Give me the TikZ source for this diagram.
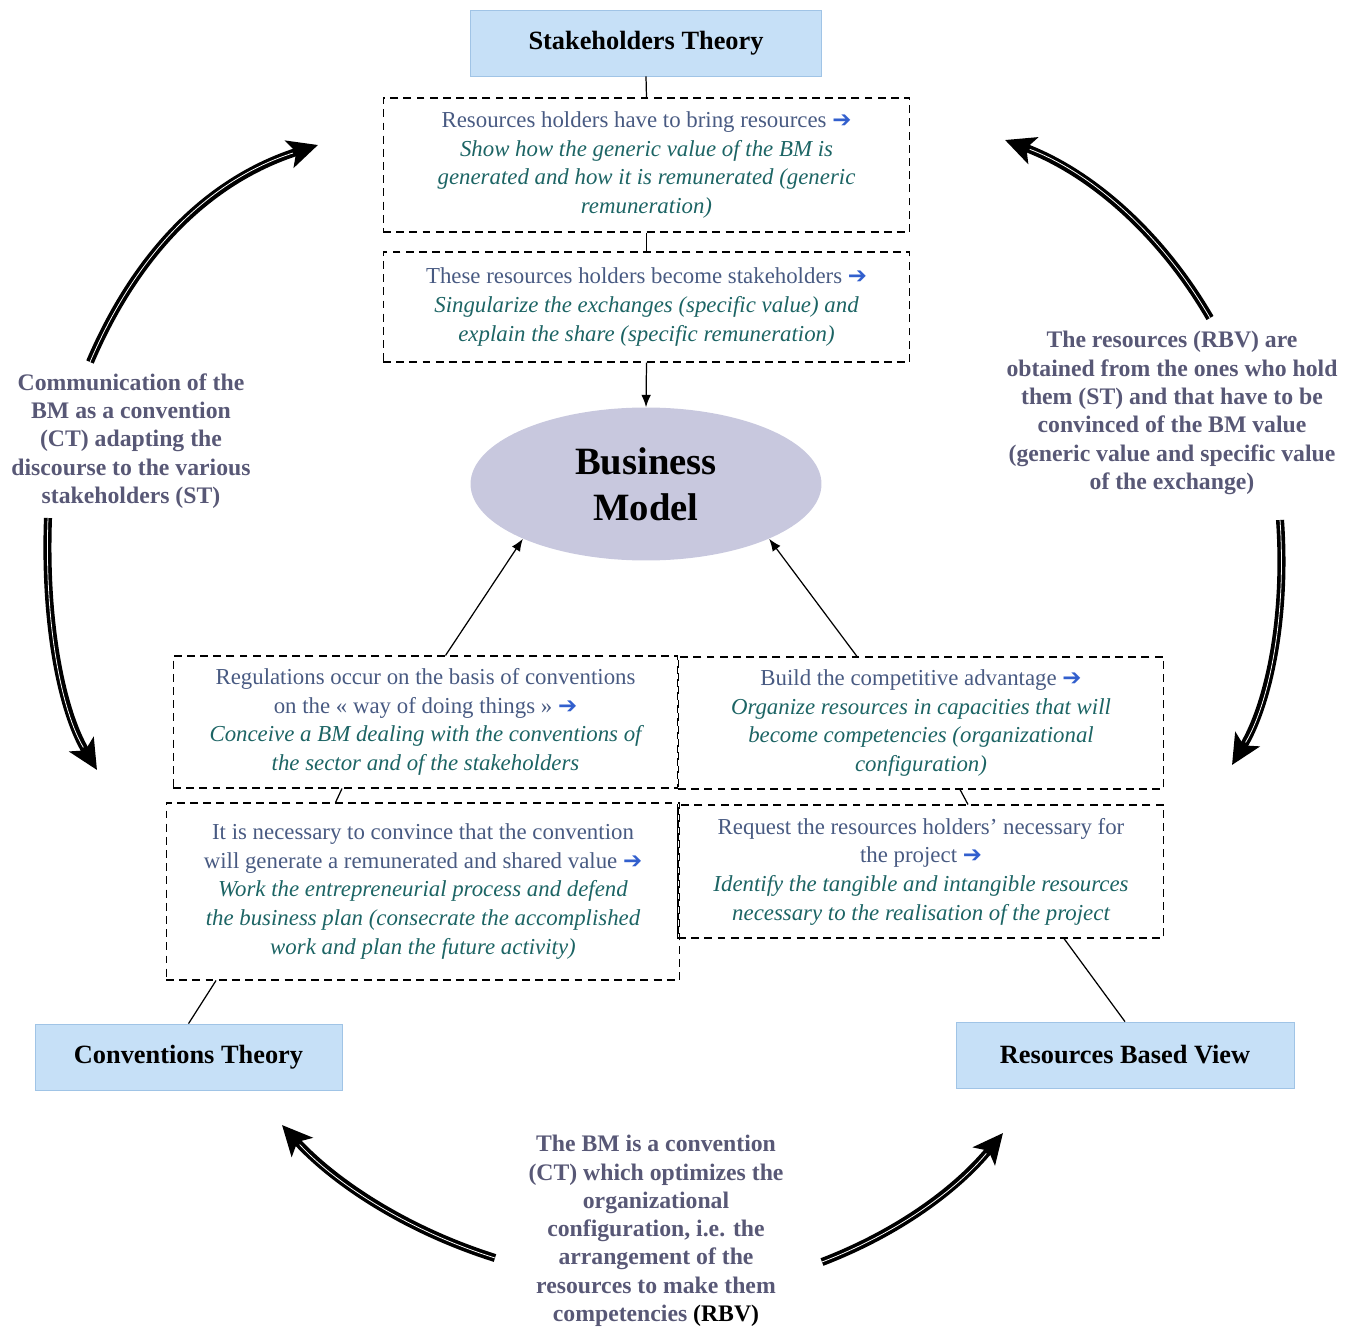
\documentclass[tikz,border=0pt]{standalone}
\usepackage{fontspec}
\setmainfont{Liberation Serif}
\newfontfamily\symfont{DejaVu Sans}
\usetikzlibrary{arrows,arrows.meta,shapes.geometric,positioning}

\definecolor{theoryblue}{RGB}{198,224,247}
\definecolor{theoryedge}{RGB}{160,196,230}
\definecolor{bmgray}{RGB}{200,200,222}
\definecolor{plainblue}{RGB}{72,90,130}
\definecolor{itteal}{RGB}{28,100,100}
\definecolor{tipblue}{RGB}{50,95,205}
\definecolor{notegray}{RGB}{88,88,118}

\newcommand{\nxt}{{\symfont\color{tipblue}\char"2794}}
\newcommand{\itx}[1]{{\color{itteal}\itshape #1}}

\tikzset{
  theory/.style={rectangle, draw=theoryedge, fill=theoryblue, minimum height=1.32cm,
    font=\fontsize{15}{18}\selectfont\bfseries},
  note/.style={rectangle, draw, line width=0.6pt, dash pattern=on 4.5pt off 3pt,
    align=center, text=plainblue, inner sep=2pt, font=\fontsize{13}{16.3}\selectfont},
  side/.style={align=center, text=notegray, font=\fontsize{13.5}{16.1}\selectfont\bfseries},
  link/.style={line width=0.7pt},
  tolink/.style={line width=0.7pt, -{Latex[length=7pt,width=5.5pt]}},
  bigarrow/.style={line width=4.6pt, -{Stealth[length=17pt,width=16pt,inset=4pt]},
    postaction={draw=white, line width=0.45pt, -, shorten >=15pt}}
}

\begin{document}
\begin{tikzpicture}[x=0.02cm, y=-0.02cm]
  \useasboundingbox (0,0) rectangle (1359,1327);

  % theories and the business model
  \node[theory, minimum width=7.02cm] (st) at (646,43) {Stakeholders Theory};
  \node[theory, minimum width=6.14cm] (ct) at (188.5,1057) {Conventions Theory};
  \node[theory, minimum width=6.76cm] (rbv) at (1125,1055) {Resources Based View};
  \node[ellipse, fill=bmgray, minimum width=7.02cm, minimum height=3.06cm,
    align=center, font=\fontsize{22}{26}\selectfont\bfseries] (bm) at (646,484) {Business\\Model};

  % stakeholders side
  \node[note, minimum width=10.54cm, minimum height=2.68cm] (bring) at (646.5,165)
    {Resources holders have to bring resources \nxt\\
     \itx{Show how the generic value of the BM is}\\
     \itx{generated and how it is remunerated (generic}\\
     \itx{remuneration)}};
  \node[note, minimum width=10.54cm, minimum height=2.2cm] (become) at (646.5,307)
    {These resources holders become stakeholders \nxt\\
     \itx{Singularize the exchanges (specific value) and}\\
     \itx{explain the share (specific remuneration)}};

  % conventions side
  \node[note, minimum width=10.1cm, minimum height=2.64cm] (regul) at (425.5,722)
    {Regulations occur on the basis of conventions\\
     on the « way of doing things » \nxt\\
     \itx{Conceive a BM dealing with the conventions of}\\
     \itx{the sector and of the stakeholders}};
  \node[note, minimum width=10.28cm, minimum height=3.54cm] (convince) at (423,891.5)
    {It is necessary to convince that the convention\\
     will generate a remunerated and shared value \nxt\\
     \itx{Work the entrepreneurial process and defend}\\
     \itx{the business plan (consecrate the accomplished}\\
     \itx{work and plan the future activity)}};

  % resources side
  \node[note, minimum width=9.72cm, minimum height=2.64cm] (advant) at (921,723)
    {Build the competitive advantage \nxt\\
     \itx{Organize resources in capacities that will}\\
     \itx{become competencies (organizational}\\
     \itx{configuration)}};
  \node[note, minimum width=9.72cm, minimum height=2.66cm] (request) at (921,871.5)
    {Request the resources holders’ necessary for\\
     the project \nxt\\
     \itx{Identify the tangible and intangible resources}\\
     \itx{necessary to the realisation of the project}};

  % links between theories
  \node[side] (commu) at (131,441)
    {Communication of the\\BM as a convention\\(CT) adapting the\\discourse to the various\\stakeholders (ST)};
  \node[side] (obtain) at (1172,413)
    {The resources (RBV) are\\obtained from the ones who hold\\them (ST) and that have to be\\convinced of the BM value\\(generic value and specific value\\of the exchange)};
  \node[side] (optim) at (656,1231)
    {The BM is a convention\\(CT) which optimizes the\\organizational\\configuration, i.e. the\\arrangement of the\\resources to make them\\competencies {\color{black}(RBV)}};

  \coordinate (commup) at (90,362);
  \coordinate (sttipl) at (318,145);
  \coordinate (commdown) at (48,518);
  \coordinate (cttipu) at (97,770);
  \coordinate (obtainup) at (1210,318);
  \coordinate (sttipr) at (1005,140);
  \coordinate (obtaindown) at (1280,520);
  \coordinate (rbvtipu) at (1232,765);
  \coordinate (optimleft) at (495,1258);
  \coordinate (cttipd) at (282,1125);
  \coordinate (optimright) at (822,1262);
  \coordinate (rbvtipd) at (1003,1133);

  \draw[bigarrow] (commup) .. controls (140,245) and (215,178) .. (sttipl);
  \draw[bigarrow] (commdown) .. controls (44,625) and (62,712) .. (cttipu);
  \draw[bigarrow] (obtainup) .. controls (1160,232) and (1090,172) .. (sttipr);
  \draw[bigarrow] (obtaindown) .. controls (1287,620) and (1268,705) .. (rbvtipu);
  \draw[bigarrow] (optimleft) .. controls (400,1228) and (330,1178) .. (cttipd);
  \draw[bigarrow] (optimright) .. controls (900,1232) and (958,1188) .. (rbvtipd);

  % connectors
  \draw[link] (st.south) -- (bring.north);
  \draw[link] (bring.south) -- (become.north);
  \draw[tolink] (become.south) -- (bm.north);
  \draw[tolink] ([xshift=0.4cm]regul.north) -- (bm.204);
  \draw[tolink] ([xshift=-1.28cm]advant.north) -- (bm.336);
  \draw[link] ([xshift=-1.67cm]regul.south) -- ([xshift=-1.75cm]convince.north);
  \draw[link] ([xshift=0.78cm]advant.south) -- ([xshift=0.94cm]request.north);
  \draw[link] (request.north west) -- (request.south west);
  \draw[link] ([xshift=-4.14cm]convince.south) -- (ct.north);
  \draw[link] ([xshift=2.86cm]request.south) -- (rbv.north);
\end{tikzpicture}
\end{document}
